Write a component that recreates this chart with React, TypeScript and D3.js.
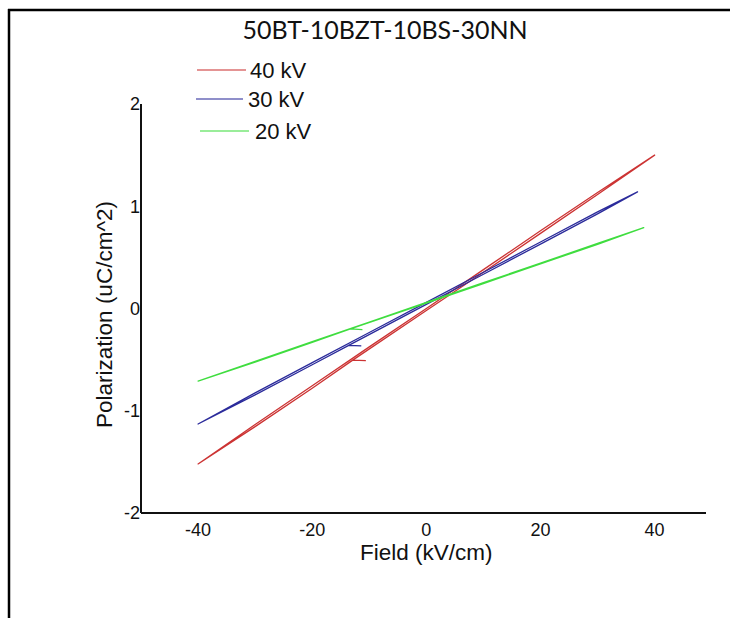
import React from "react";
import * as d3 from "d3";

// ---- data ----
const chartTitle = "50BT-10BZT-10BS-30NN";
const xLabel = "Field (kV/cm)";
const yLabel = "Polarization (uC/cm^2)";
const xTicks = [-40, -20, 0, 20, 40];
const yTicks = [2, 1, 0, -1, -2];
const seriesNames = ["40 kV", "30 kV", "20 kV"];
const seriesColors = ["#cc3333", "#2b2b9b", "#3fdd3f"];

// [Field kV/cm, Polarization uC/cm^2] traced around each slim loop
const loop40: [number, number][] = [
  [-10.6, -0.51], [-12.9, -0.505], [0, -0.02], [10, 0.355], [20, 0.735], [30, 1.115], [40, 1.5],
  [30, 1.135], [20, 0.76], [10, 0.38], [0, 0.0], [-10, -0.375], [-20, -0.755], [-30, -1.135], [-40, -1.52],
  [-30, -1.155], [-20, -0.78], [-12.9, -0.505],
];
const loop30: [number, number][] = [
  [-11.4, -0.365], [-13.6, -0.36], [0, 0.04], [10, 0.335], [20, 0.63], [30, 0.925], [37, 1.14],
  [30, 0.945], [20, 0.65], [10, 0.355], [0, 0.06], [-10, -0.235], [-20, -0.53], [-30, -0.825], [-40, -1.13],
  [-30, -0.845], [-20, -0.55], [-13.6, -0.36],
];
const loop20: [number, number][] = [
  [-11.2, -0.207], [-13.3, -0.2], [0, 0.052], [10, 0.244], [20, 0.436], [30, 0.628], [38.1, 0.79],
  [30, 0.636], [20, 0.444], [10, 0.252], [0, 0.06], [-10, -0.132], [-20, -0.324], [-30, -0.516], [-40, -0.71],
  [-30, -0.524], [-20, -0.332], [-13.3, -0.2],
];
const loops = [loop40, loop30, loop20];

const xDomain: [number, number] = [-50, 49];
const yDomain: [number, number] = [-2, 2];

export default function App() {
  const W = 730;
  const H = 618;
  const x = d3.scaleLinear().domain(xDomain).range([141, 706]);
  const y = d3.scaleLinear().domain(yDomain).range([513, 104]);
  const line = d3
    .line<[number, number]>()
    .x((d) => x(d[0]))
    .y((d) => y(d[1]));

  const axisFont = "'Liberation Sans', Arial, sans-serif";
  const legendPos = [
    { x1: 197, x2: 246, y: 70, tx: 250 },
    { x1: 196, x2: 243, y: 99, tx: 248 },
    { x1: 200, x2: 249, y: 131, tx: 255 },
  ];

  return (
    <svg
      width={W}
      height={H}
      style={{ position: "absolute", left: 0, top: 0, background: "#fff" }}
    >
      <rect x={0} y={0} width={W} height={H} fill="#fff" />
      {/* frame */}
      <line x1={8} y1={10} x2={W} y2={10} stroke="#000" strokeWidth={2.5} />
      <line x1={9} y1={9} x2={9} y2={H} stroke="#000" strokeWidth={2.5} />

      {/* title */}
      <text
        x={385}
        y={39}
        textAnchor="middle"
        fontFamily="Lato, 'Open Sans', sans-serif"
        fontSize={25}
        fill="#111"
      >
        {chartTitle}
      </text>

      {/* axes */}
      <line x1={x(xDomain[0])} y1={y(yDomain[0])} x2={x(xDomain[1])} y2={y(yDomain[0])} stroke="#111" strokeWidth={2} />
      <line x1={x(xDomain[0])} y1={y(yDomain[0])} x2={x(xDomain[0])} y2={y(yDomain[1])} stroke="#111" strokeWidth={2} />

      {yTicks.map((t) => (
        <text
          key={"y" + t}
          x={x(xDomain[0]) - 1}
          y={y(t)}
          dy="0.36em"
          textAnchor="end"
          fontFamily={axisFont}
          fontSize={18}
          fill="#111"
        >
          {t}
        </text>
      ))}
      {xTicks.map((t) => (
        <text
          key={"x" + t}
          x={x(t)}
          y={y(yDomain[0]) + 23}
          textAnchor="middle"
          fontFamily={axisFont}
          fontSize={18}
          fill="#111"
        >
          {t}
        </text>
      ))}

      <text
        x={x(0)}
        y={560}
        textAnchor="middle"
        fontFamily={axisFont}
        fontSize={22.5}
        fill="#111"
      >
        {xLabel}
      </text>
      <text
        transform={`translate(112, ${y(0) + 6}) rotate(-90)`}
        textAnchor="middle"
        fontFamily={axisFont}
        fontSize={22.5}
        fill="#111"
      >
        {yLabel}
      </text>

      {/* loops */}
      {loops.map((d, i) => (
        <path
          key={"l" + i}
          d={line(d) || ""}
          fill="none"
          stroke={seriesColors[i]}
          strokeWidth={1.3}
          strokeLinejoin="round"
        />
      ))}

      {/* legend */}
      {seriesNames.map((n, i) => (
        <g key={"lg" + i}>
          <line
            x1={legendPos[i].x1}
            x2={legendPos[i].x2}
            y1={legendPos[i].y}
            y2={legendPos[i].y}
            stroke={seriesColors[i]}
            strokeOpacity={0.7}
            strokeWidth={1.6}
          />
          <text
            x={legendPos[i].tx}
            y={legendPos[i].y}
            dy="0.36em"
            fontFamily={axisFont}
            fontSize={22}
            fill="#111"
          >
            {n}
          </text>
        </g>
      ))}
    </svg>
  );
}
